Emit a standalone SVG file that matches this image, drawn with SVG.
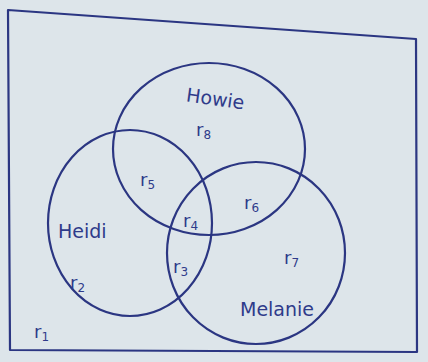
<svg xmlns="http://www.w3.org/2000/svg" width="428" height="362" viewBox="0 0 428 362">
<style>
.ln{fill:none;stroke:#2b3682;stroke-width:2.2;stroke-linejoin:round}
.t{font-family:"DejaVu Sans","Liberation Sans",sans-serif;fill:#2f3b8a;font-size:18px}
.n{font-size:19px}
.s{font-size:12px}
</style>
<rect width="428" height="362" fill="#dde5ea"/>
<g id="universe">
<polygon class="ln" points="8,10 416,39 417,352 10,350"/>
<text class="t" x="34" y="338">r<tspan class="s" dy="3">1</tspan></text>
</g>
<g id="howie">
<ellipse class="ln" cx="209" cy="149" rx="96" ry="86"/>
<text class="t n" x="186" y="105" transform="rotate(8 212 100)">Howie</text>
<text class="t" x="196" y="136">r<tspan class="s" dy="3">8</tspan></text>
</g>
<g id="heidi">
<ellipse class="ln" cx="130" cy="223" rx="82" ry="93"/>
<text class="t n" x="58" y="238">Heidi</text>
<text class="t" x="70" y="289">r<tspan class="s" dy="3">2</tspan></text>
</g>
<g id="melanie">
<ellipse class="ln" cx="256" cy="253" rx="89" ry="91"/>
<text class="t n" x="240" y="316">Melanie</text>
<text class="t" x="284" y="264">r<tspan class="s" dy="3">7</tspan></text>
</g>
<g id="regions">
<text class="t" x="140" y="186">r<tspan class="s" dy="3">5</tspan></text>
<text class="t" x="244" y="209">r<tspan class="s" dy="3">6</tspan></text>
<text class="t" x="183" y="227">r<tspan class="s" dy="3">4</tspan></text>
<text class="t" x="173" y="273">r<tspan class="s" dy="3">3</tspan></text>
</g>
</svg>
